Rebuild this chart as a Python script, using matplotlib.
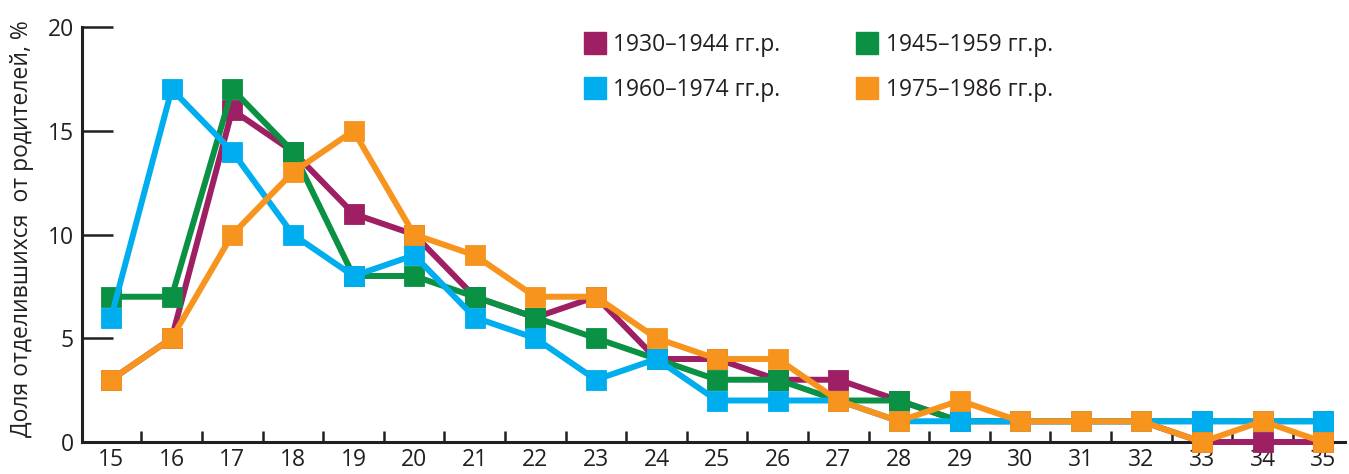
import matplotlib
matplotlib.use("Agg")
import matplotlib.pyplot as plt
from matplotlib.lines import Line2D

ages = list(range(15, 36))
s1930 = [3, 5, 16, 14, 11, 10, 7, 6, 7, 4, 4, 3, 3, 2, 1, 1, 1, 1, 0, 0, 0]
s1945 = [7, 7, 17, 14, 8, 8, 7, 6, 5, 4, 3, 3, 2, 2, 1, 1, 1, 1, 1, 1, 1]
s1960 = [6, 17, 14, 10, 8, 9, 6, 5, 3, 4, 2, 2, 2, 1, 1, 1, 1, 1, 1, 1, 1]
s1975 = [3, 5, 10, 13, 15, 10, 9, 7, 7, 5, 4, 4, 2, 1, 2, 1, 1, 1, 0, 1, 0]
labels = ["1930–1944 гг.р.", "1945–1959 гг.р.", "1960–1974 гг.р.", "1975–1986 гг.р."]
colors = ["#9E1F63", "#0A9144", "#00AEEF", "#F7941D"]
ylabel = "Доля отделившихся  от родителей, %"
yticks = [0, 5, 10, 15, 20]

plt.rcParams['font.family'] = ['Open Sans', 'DejaVu Sans']
txt = "#231F20"

fig = plt.figure(figsize=(13.49, 4.74), dpi=100)
ax = fig.add_axes([82/1349, 1-442/474, (1345-82)/1349, (442-27)/474])

all_series = [s1930, s1945, s1960, s1975]
for idx in [1, 0, 2, 3]:
    data = all_series[idx]
    c = colors[idx]
    ax.plot(ages, data, color=c, lw=4.3, marker='s', ms=14, mfc=c,
            mec=c, mew=0.6, clip_on=False, zorder=3 + idx)

ax.set_xlim(14.52, 35.36)
ax.set_ylim(0, 20)
for s in ['top', 'right']:
    ax.spines[s].set_visible(False)
for s in ['left', 'bottom']:
    ax.spines[s].set_linewidth(2.2)
    ax.spines[s].set_color(txt)

ax.set_yticks(yticks)
ax.set_yticklabels([str(v) for v in yticks])
ax.tick_params(axis='y', direction='in', length=22, width=1.8, color=txt,
               labelsize=16.5, labelcolor=txt, pad=6)
ax.set_xticks(ages)
ax.set_xticklabels([str(a) for a in ages])
ax.tick_params(axis='x', which='major', length=0, labelsize=16.5, labelcolor=txt, pad=4)
ax.set_xticks([a + 0.5 for a in ages[:-1]], minor=True)
ax.tick_params(axis='x', which='minor', direction='in', length=8, width=1.8, color=txt)

fig.text(22/1349, 1-229/474, ylabel, rotation=90, ha='center', va='center',
         fontsize=16.5, color=txt)

handles = [Line2D([], [], ls='none', marker='s', ms=16, mfc=c, mec=c) for c in colors]
hord = [0, 2, 1, 3]
leg = ax.legend([handles[i] for i in hord], [labels[i] for i in hord], ncol=2,
                loc='upper left', bbox_to_anchor=(572/1349, 1-22/474),
                bbox_transform=fig.transFigure, frameon=False, fontsize=16.5,
                handlelength=1.0, handletextpad=0.3, columnspacing=3.3,
                labelspacing=0.9, borderpad=0)
for t in leg.get_texts():
    t.set_color(txt)

fig.savefig("out.png", dpi=100)
